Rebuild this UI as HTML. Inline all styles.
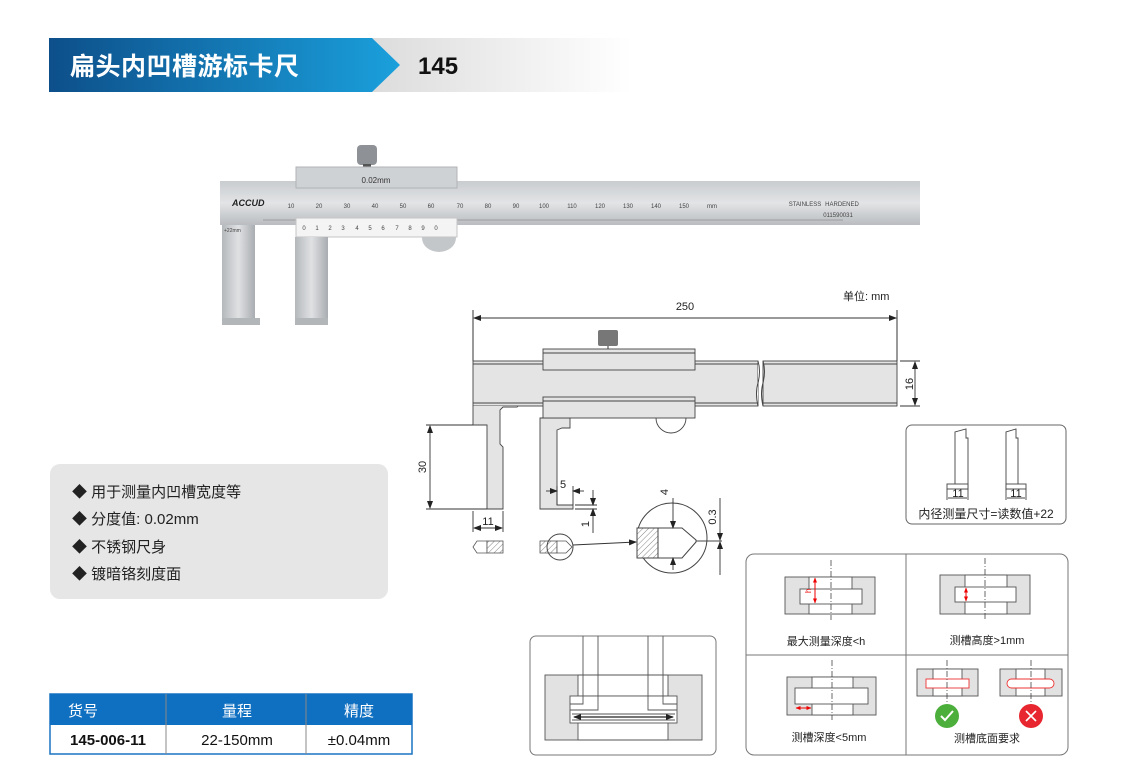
<!DOCTYPE html>
<html><head><meta charset="utf-8"><style>
html,body{margin:0;padding:0;background:#fff;width:1130px;height:766px;overflow:hidden}
svg{display:block;font-family:"Liberation Sans","Noto Sans CJK SC",sans-serif}
</style></head><body>
<svg width="1130" height="766" viewBox="0 0 1130 766" xmlns="http://www.w3.org/2000/svg">
<defs>
<linearGradient id="hb" x1="0" x2="1" y1="0" y2="0"><stop offset="0" stop-color="#0d4f8a"/><stop offset="1" stop-color="#1aa0dc"/></linearGradient>
<linearGradient id="hg" x1="0" x2="1"><stop offset="0" stop-color="#dcdcdc"/><stop offset="1" stop-color="#ffffff"/></linearGradient>
<linearGradient id="steel" x1="0" x2="0" y1="0" y2="1"><stop offset="0" stop-color="#c9cccf"/><stop offset="0.5" stop-color="#e2e4e6"/><stop offset="1" stop-color="#b9bcc0"/></linearGradient>
<linearGradient id="jaw" x1="0" x2="1"><stop offset="0" stop-color="#b5b8bb"/><stop offset="0.5" stop-color="#dfe1e3"/><stop offset="1" stop-color="#a9acb0"/></linearGradient>
<pattern id="tk" x="263" y="0" width="2.81" height="20" patternUnits="userSpaceOnUse"><rect x="0" y="0" width="0.7" height="5" fill="#555"/></pattern>
<pattern id="ht" width="4" height="4" patternUnits="userSpaceOnUse" patternTransform="rotate(45)"><rect width="4" height="4" fill="#fff"/><line x1="0" y1="0" x2="0" y2="4" stroke="#666" stroke-width="0.8"/></pattern>
<marker id="ar" markerWidth="8" markerHeight="6" refX="7" refY="3" orient="auto-start-reverse" markerUnits="userSpaceOnUse"><path d="M0,0 L8,3 L0,6z" fill="#222"/></marker>
<marker id="rr" markerWidth="5" markerHeight="4" refX="4.5" refY="2" orient="auto-start-reverse" markerUnits="userSpaceOnUse"><path d="M0,0 L5,2 L0,4z" fill="#e00"/></marker>
</defs>

<!-- header -->
<rect x="372" y="38" width="260" height="54" fill="url(#hg)"/>
<polygon points="49,38 372,38 400,65 372,92 49,92" fill="url(#hb)"/>
<text x="70" y="75" fill="#fff" font-size="25" font-weight="bold" letter-spacing="0.5">扁头内凹槽游标卡尺</text>
<text x="418" y="74" fill="#111" font-size="24" font-weight="bold">145</text>

<!-- caliper photo -->
<rect x="357" y="145" width="20" height="20" rx="4" fill="#8e9296"/>
<rect x="363" y="164" width="8" height="5" fill="#555"/>
<rect x="220" y="181" width="700" height="44" fill="url(#steel)"/>
<rect x="296" y="167" width="161" height="21" fill="#cfd2d5" stroke="#b0b3b6"/>
<text x="376" y="183" font-size="8" text-anchor="middle" fill="#333">0.02mm</text>
<text x="232" y="206" font-size="9" font-weight="bold" font-style="italic" fill="#222">ACCUD</text>
<rect x="263" y="214" width="580" height="6" fill="url(#tk)"/>
<line x1="263" y1="220" x2="843" y2="220" stroke="#777" stroke-width="0.6"/>
<g font-size="6" fill="#444" text-anchor="middle">
<text x="291" y="208">10</text><text x="319" y="208">20</text><text x="347" y="208">30</text><text x="375" y="208">40</text><text x="403" y="208">50</text><text x="431" y="208">60</text><text x="460" y="208">70</text><text x="488" y="208">80</text><text x="516" y="208">90</text><text x="544" y="208">100</text><text x="572" y="208">110</text><text x="600" y="208">120</text><text x="628" y="208">130</text><text x="656" y="208">140</text><text x="684" y="208">150</text><text x="712" y="208">mm</text>
<text x="805" y="206">STAINLESS</text><text x="842" y="206">HARDENED</text><text x="838" y="217">011590031</text>
</g>
<ellipse cx="439" cy="238" rx="17" ry="14" fill="#c4c7ca"/>
<rect x="296" y="218" width="161" height="19" fill="#f4f4f4" stroke="#c5c5c5"/>
<g font-size="6" fill="#444" text-anchor="middle"><text x="304" y="230">0</text><text x="317" y="230">1</text><text x="330" y="230">2</text><text x="343" y="230">3</text><text x="357" y="230">4</text><text x="370" y="230">5</text><text x="383" y="230">6</text><text x="397" y="230">7</text><text x="410" y="230">8</text><text x="423" y="230">9</text><text x="436" y="230">0</text></g>
<rect x="222" y="225" width="33" height="100" fill="url(#jaw)"/>
<rect x="222" y="318" width="38" height="7" fill="#b3b6b9"/>
<text x="224" y="232" font-size="5" fill="#444">+22mm</text>
<rect x="295" y="237" width="33" height="88" fill="url(#jaw)"/>
<rect x="295" y="318" width="33" height="7" fill="#b3b6b9"/>

<!-- technical drawing -->
<g stroke="#333" stroke-width="1" fill="none">
<line x1="473" y1="310" x2="473" y2="361"/><line x1="897" y1="310" x2="897" y2="361"/>
<line x1="474" y1="318" x2="896" y2="318" marker-start="url(#ar)" marker-end="url(#ar)"/>
</g>
<text x="685" y="310" font-size="11" text-anchor="middle" fill="#222">250</text>
<text x="843" y="300" font-size="11" fill="#222">单位: mm</text>
<rect x="598" y="330" width="20" height="16" rx="2" fill="#777"/>
<line x1="608" y1="346" x2="608" y2="350" stroke="#333"/>
<g stroke="#444" stroke-width="0.9">
<rect x="473" y="361" width="285" height="45" fill="#e4e4e4"/>
<rect x="763" y="361" width="134" height="45" fill="#e4e4e4"/>
<line x1="473" y1="364" x2="758" y2="364"/><line x1="763" y1="364" x2="897" y2="364"/>
<line x1="473" y1="403" x2="758" y2="403"/><line x1="763" y1="403" x2="897" y2="403"/>
<path d="M473,406 L473,425 L487,425 L487,509 L503,509 L503,447 L500,444 L500,410 L503,407 L517,407 L518,406" fill="#e4e4e4"/>
<path d="M540,418 L540,509 L573,509 L573,505 L557,505 L557,430 L562,428 L570,428 L570,418z" fill="#e4e4e4"/>
<path d="M656,418 A15,15 0 0 0 686,418" fill="#fff"/>
<rect x="543" y="349" width="152" height="21" fill="#e4e4e4"/>
<rect x="543" y="397" width="152" height="21" fill="#e4e4e4"/>
<line x1="543" y1="353" x2="695" y2="353"/><line x1="543" y1="401" x2="695" y2="401"/>
</g>
<path d="M758,361 q3,10 0,22 q-3,10 0,23" stroke="#444" fill="#fff"/>
<path d="M763,361 q3,10 0,22 q-3,10 0,23" stroke="#444" fill="none"/>
<g stroke="#333" stroke-width="0.9" fill="none">
<line x1="900" y1="361" x2="920" y2="361"/><line x1="900" y1="406" x2="920" y2="406"/>
<line x1="915" y1="362" x2="915" y2="405" marker-start="url(#ar)" marker-end="url(#ar)"/>
<line x1="426" y1="425" x2="473" y2="425"/><line x1="426" y1="509" x2="487" y2="509"/>
<line x1="430" y1="426" x2="430" y2="508" marker-start="url(#ar)" marker-end="url(#ar)"/>
<line x1="473" y1="511" x2="473" y2="532"/><line x1="503" y1="511" x2="503" y2="532"/>
<line x1="474" y1="528" x2="502" y2="528" marker-start="url(#ar)" marker-end="url(#ar)"/>
<line x1="557" y1="486" x2="557" y2="505"/><line x1="573" y1="486" x2="573" y2="505"/>
<line x1="546" y1="491" x2="557" y2="491" marker-end="url(#ar)"/><line x1="584" y1="491" x2="573" y2="491" marker-end="url(#ar)"/>
<line x1="575" y1="505" x2="597" y2="505"/><line x1="575" y1="509" x2="597" y2="509"/>
<line x1="593" y1="490" x2="593" y2="505" marker-end="url(#ar)"/><line x1="593" y1="533" x2="593" y2="509" marker-end="url(#ar)"/>
</g>
<text x="916" y="384" font-size="11" fill="#222" transform="rotate(-90 916 384)" text-anchor="middle" dy="-3">16</text>
<text x="428" y="467" font-size="11" fill="#222" transform="rotate(-90 428 467)" text-anchor="middle" dy="-2">30</text>
<text x="488" y="525" font-size="11" fill="#222" text-anchor="middle">11</text>
<text x="563" y="488" font-size="11" fill="#222" text-anchor="middle">5</text>
<text x="589" y="524" font-size="11" fill="#222" transform="rotate(-90 589 524)" text-anchor="middle">1</text>
<!-- section views -->
<path d="M487,541 L477,541 L473,547 L477,553 L487,553z" fill="#fff" stroke="#555" stroke-width="0.8"/>
<rect x="487" y="541" width="16" height="12" fill="url(#ht)" stroke="#555" stroke-width="0.8"/>
<rect x="540" y="541" width="17" height="12" fill="url(#ht)" stroke="#555" stroke-width="0.8"/>
<path d="M557,541 L566,541 L572,547 L566,553 L557,553z" fill="#fff" stroke="#555" stroke-width="0.8"/>
<circle cx="560" cy="547" r="13" fill="none" stroke="#444"/>
<line x1="573" y1="545" x2="636" y2="542" stroke="#333" marker-end="url(#ar)"/>
<circle cx="672" cy="538" r="35" fill="#fff" stroke="#444"/>
<rect x="637" y="528" width="21" height="30" fill="url(#ht)" stroke="#444"/>
<path d="M658,528 L682,528 L696,540 L696,542 L682,558 L658,558" fill="none" stroke="#444"/>
<line x1="696" y1="541" x2="722" y2="541" stroke="#444"/>
<g stroke="#333" stroke-width="0.9">
<line x1="673" y1="498" x2="673" y2="528" marker-end="url(#ar)"/><line x1="673" y1="570" x2="673" y2="558" marker-end="url(#ar)"/>
<line x1="720" y1="498" x2="720" y2="540" marker-end="url(#ar)"/><line x1="720" y1="575" x2="720" y2="542" marker-end="url(#ar)"/>
</g>
<text x="668" y="492" font-size="11" fill="#222" transform="rotate(-90 668 492)" text-anchor="middle">4</text>
<text x="716" y="517" font-size="11" fill="#222" transform="rotate(-90 716 517)" text-anchor="middle">0.3</text>

<!-- info box right -->
<rect x="906" y="425" width="160" height="99" rx="6" fill="#fff" stroke="#666"/>
<g stroke="#444" fill="#fff" stroke-width="0.9">
<path d="M955,489 L955,432 L966,429 L966,438 L968,438 L968,489z"/>
<rect x="947" y="484" width="21" height="5"/>
<path d="M1006,489 L1006,432 L1016,429 L1016,438 L1018,438 L1018,489z"/>
<rect x="1006" y="484" width="20" height="5"/>
<line x1="947" y1="489" x2="947" y2="500"/><line x1="968" y1="489" x2="968" y2="500"/>
<line x1="1006" y1="489" x2="1006" y2="500"/><line x1="1026" y1="489" x2="1026" y2="500"/>
<line x1="948" y1="498" x2="967" y2="498"/><line x1="1007" y1="498" x2="1025" y2="498"/>
</g>
<text x="958" y="497" font-size="11" text-anchor="middle" fill="#222">11</text>
<text x="1016" y="497" font-size="11" text-anchor="middle" fill="#222">11</text>
<text x="986" y="518" font-size="12" text-anchor="middle" fill="#222">内径测量尺寸=读数值+22</text>

<!-- bottom right box -->
<rect x="746" y="554" width="322" height="201" rx="8" fill="#fff" stroke="#777"/>
<line x1="906" y1="554" x2="906" y2="755" stroke="#777"/>
<line x1="746" y1="655" x2="1068" y2="655" stroke="#777"/>
<g stroke="#555" stroke-width="0.9">
<rect x="785" y="577" width="90" height="37" fill="#e2e2e2"/><rect x="809" y="577" width="43" height="37" fill="#fff"/><rect x="800" y="589" width="62" height="15" fill="#fff"/>
<rect x="940" y="575" width="90" height="39" fill="#e2e2e2"/><rect x="965" y="575" width="42" height="39" fill="#fff"/><rect x="955" y="587" width="61" height="15" fill="#fff"/>
<rect x="787" y="677" width="89" height="38" fill="#e2e2e2"/><rect x="812" y="677" width="41" height="38" fill="#fff"/><rect x="795" y="688" width="73" height="16" fill="#fff"/>
<rect x="917" y="669" width="61" height="27" fill="#e2e2e2"/><rect x="933" y="669" width="29" height="27" fill="#fff"/>
<rect x="1000" y="669" width="62" height="27" fill="#e2e2e2"/><rect x="1016" y="669" width="29" height="27" fill="#fff"/>
</g>
<rect x="926" y="679" width="43" height="9" fill="#fff" stroke="#e33" stroke-width="0.9"/>
<rect x="1007" y="679" width="47" height="9" rx="4.5" fill="#fff" stroke="#e33" stroke-width="0.9"/>
<g stroke="#444" stroke-width="0.8" stroke-dasharray="6,2,1,2">
<line x1="831" y1="560" x2="831" y2="620"/><line x1="985" y1="558" x2="985" y2="620"/><line x1="832" y1="660" x2="832" y2="720"/><line x1="947" y1="660" x2="947" y2="704"/><line x1="1031" y1="660" x2="1031" y2="704"/>
<line x1="623" y1="650" x2="623" y2="755"/>
</g>
<line x1="815" y1="578" x2="815" y2="603" stroke="#e00" marker-start="url(#rr)" marker-end="url(#rr)"/>
<text x="811" y="593" font-size="8" fill="#e00" transform="rotate(-90 811 593)">h</text>
<line x1="966" y1="588" x2="966" y2="601" stroke="#e00" marker-start="url(#rr)" marker-end="url(#rr)"/>
<line x1="796" y1="708" x2="811" y2="708" stroke="#e00" marker-start="url(#rr)" marker-end="url(#rr)"/>
<circle cx="947" cy="716" r="12" fill="#4caf3c"/><path d="M941,716 L945,720 L953,711" stroke="#fff" stroke-width="2" fill="none"/>
<circle cx="1031" cy="716" r="12" fill="#e8262f"/><path d="M1026,711 L1036,721 M1036,711 L1026,721" stroke="#fff" stroke-width="1.6"/>
<g font-size="11" fill="#222" text-anchor="middle">
<text x="826" y="645">最大测量深度&lt;h</text><text x="987" y="644">测槽高度&gt;1mm</text>
<text x="829" y="741">测槽深度&lt;5mm</text><text x="987" y="742">测槽底面要求</text>
</g>

<!-- bottom middle box -->
<rect x="530" y="636" width="186" height="119" rx="6" fill="#fff" stroke="#777"/>
<g stroke="#555" stroke-width="0.9">
<rect x="545" y="675" width="33" height="65" fill="#e2e2e2"/>
<rect x="668" y="675" width="34" height="65" fill="#e2e2e2"/>
<line x1="578" y1="675" x2="668" y2="675"/><line x1="578" y1="740" x2="668" y2="740"/><line x1="578" y1="696" x2="668" y2="696"/>
<rect x="570" y="696" width="107" height="27" fill="#fff"/>
<path d="M583,636 L583,704 L570,704 M598,636 L598,710 L570,710" fill="none"/>
<path d="M663,636 L663,704 L677,704 M648,636 L648,710 L677,710" fill="none"/>
<line x1="572" y1="714" x2="675" y2="714"/><line x1="572" y1="720" x2="675" y2="720"/>
</g>
<line x1="574" y1="717" x2="673" y2="717" stroke="#222" stroke-width="1.2" marker-start="url(#ar)" marker-end="url(#ar)"/>

<!-- features box -->
<rect x="50" y="464" width="338" height="135" rx="10" fill="#e6e6e6"/>
<g font-size="15" fill="#222">
<text x="72" y="497">◆ 用于测量内凹槽宽度等</text>
<text x="72" y="524">◆ 分度值: 0.02mm</text>
<text x="72" y="552">◆ 不锈钢尺身</text>
<text x="72" y="579">◆ 镀暗铬刻度面</text>
</g>

<!-- table -->
<rect x="50" y="694" width="362" height="60" fill="#fff" stroke="#1a73c2" stroke-width="1.5"/>
<rect x="50" y="694" width="362" height="31" fill="#0f6fc0"/>
<line x1="166" y1="694" x2="166" y2="754" stroke="#888"/><line x1="306" y1="694" x2="306" y2="754" stroke="#888"/>
<g font-size="15" text-anchor="middle">
<text x="83" y="716" fill="#fff">货号</text><text x="237" y="716" fill="#fff">量程</text><text x="359" y="716" fill="#fff">精度</text>
<text x="108" y="745" fill="#111" font-weight="bold">145-006-11</text><text x="237" y="745" fill="#111">22-150mm</text><text x="359" y="745" fill="#111">±0.04mm</text>
</g>
</svg>
</body></html>
